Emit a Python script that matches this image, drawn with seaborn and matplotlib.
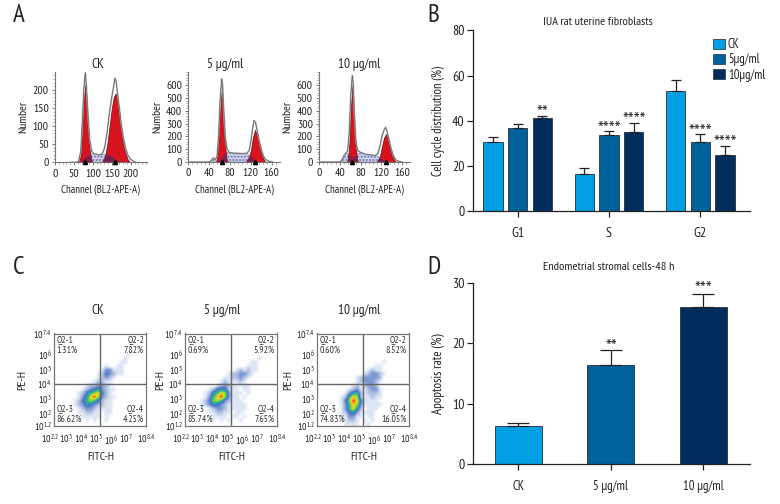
import numpy as np
import pandas as pd
import matplotlib
matplotlib.use("Agg")
import matplotlib.pyplot as plt
from matplotlib import font_manager as fm
from matplotlib.colors import LinearSegmentedColormap
from matplotlib.patches import Patch
from matplotlib.transforms import ScaledTranslation
import seaborn as sns

sns.set_theme(style="ticks")
_have = {f.name for f in fm.fontManager.ttflist}
NARROW = next((n for n in ["PT Sans Narrow", "Fira Sans Condensed", "Roboto Condensed", "Archivo Narrow", "DejaVu Sans"] if n in _have), "DejaVu Sans")
plt.rcParams["font.family"] = [NARROW, "DejaVu Sans"]
plt.rcParams["mathtext.fontset"] = "custom"
plt.rcParams["mathtext.rm"] = NARROW
plt.rcParams["mathtext.default"] = "rm"
plt.rcParams["text.color"] = "#222222"
plt.rcParams["axes.labelcolor"] = "#222222"
plt.rcParams["xtick.labelcolor"] = "#222222"
plt.rcParams["ytick.labelcolor"] = "#222222"

# ---- panel A: DNA histograms
hist_titles = ["CK", "5 µg/ml", "10 µg/ml"]
ck_outline_x = [40, 55, 62, 68, 72, 76, 80, 83, 87, 92, 97, 102, 110, 118, 125, 131, 137, 143, 149, 154, 158, 161, 165, 170, 175, 180, 186, 192, 200, 208, 215]
ck_outline_y = [0, 0, 2, 30, 110, 200, 247, 210, 130, 60, 30, 24, 22, 20, 24, 40, 80, 130, 175, 205, 232, 225, 190, 150, 105, 70, 40, 20, 8, 2, 0]
ck_g1_x = [62, 67, 72, 76, 80, 84, 88, 92, 96, 100]
ck_g1_y = [0, 15, 100, 175, 214, 170, 90, 30, 6, 0]
ck_g2_x = [125, 132, 138, 144, 150, 155, 160, 165, 170, 175, 180, 186, 192, 198]
ck_g2_y = [0, 15, 50, 100, 150, 180, 190, 170, 125, 85, 50, 25, 8, 0]
ck_s_x = [65, 75, 85, 95, 105, 120, 135, 150, 160, 172]
ck_s_y = [0, 10, 20, 24, 22, 20, 22, 18, 8, 0]

m5_outline_x = [0, 40, 44, 48, 52, 55, 58, 61, 64, 66, 68, 71, 74, 78, 85, 95, 105, 112, 117, 120, 123, 126, 129, 132, 136, 140, 144, 148, 155, 162]
m5_outline_y = [0, 0, 10, 32, 20, 40, 200, 480, 650, 600, 400, 200, 110, 75, 70, 68, 66, 68, 90, 160, 250, 325, 310, 250, 170, 100, 50, 20, 5, 0]
m5_g1_x = [54, 57, 60, 64, 67, 70, 73, 76]
m5_g1_y = [0, 100, 350, 565, 430, 170, 30, 0]
m5_g2_x = [111, 116, 120, 124, 128, 132, 136, 140, 144, 148]
m5_g2_y = [0, 30, 90, 190, 252, 215, 140, 70, 25, 0]
m5_s_x = [42, 48, 52, 56, 62, 68, 75, 85, 100, 112, 120, 128, 135]
m5_s_y = [0, 30, 15, 0, 30, 60, 75, 70, 65, 65, 45, 15, 0]

m10_outline_x = [0, 40, 44, 48, 52, 55, 58, 61, 64, 66, 68, 71, 74, 80, 90, 100, 108, 113, 117, 121, 125, 128, 131, 135, 139, 143, 148, 155, 160]
m10_outline_y = [0, 0, 15, 50, 70, 85, 220, 520, 677, 600, 380, 170, 90, 75, 60, 55, 50, 65, 120, 200, 250, 271, 240, 170, 100, 50, 15, 3, 0]
m10_g1_x = [55, 58, 61, 64, 67, 70, 73, 75]
m10_g1_y = [0, 120, 400, 600, 420, 150, 30, 0]
m10_g2_x = [112, 117, 121, 125, 129, 133, 137, 141, 145, 148]
m10_g2_y = [0, 40, 120, 190, 219, 170, 100, 50, 15, 0]
m10_s_x = [42, 47, 52, 57, 62, 70, 78, 90, 100, 110, 118, 126, 134]
m10_s_y = [0, 40, 70, 60, 35, 55, 70, 60, 55, 50, 35, 15, 0]

# ---- panel B
phases = ["G1", "S", "G2"]
doses_b = ["CK", "5µg/ml", "10µg/ml"]
b_ck = [30.8, 16.6, 53.2]
b_5 = [36.7, 33.6, 30.6]
b_10 = [41.1, 35.1, 24.9]
b_ck_err = [2.2, 2.7, 4.7]
b_5_err = [1.9, 1.8, 3.4]
b_10_err = [0.9, 3.9, 4.1]
b_stars = [["", "", ""], ["", "****", "****"], ["**", "****", "****"]]
b_star_y = [[0, 0, 0], [0, 38.2, 36.8], [45.3, 42.1, 32.1]]

# ---- panel D
doses_d = ["CK", "5 µg/ml", "10 µg/ml"]
d_vals = [6.3, 16.4, 26.0]
d_err = [0.5, 2.5, 2.3]
d_stars = ["", "**", "***"]
d_star_y = [0, 20.1, 29.7]

# ---- panel C: density, digit 0-9, one string per row from the top
flow_titles = ["CK", "5 µg/ml", "10 µg/ml"]
flow_ck = ["", "", "", "", "",
    "000000000000000000010",
    "00000000000000000010",
    "000000000000000001100",
    "0000000000000100110",
    "000000000000133111",
    "000000000001243211",
    "0000000000012321",
    "00000000001221100",
    "000000001223321",
    "000000012345321100",
    "000000124678421",
    "000000135897321100",
    "000001246764211",
    "000001235432211",
    "000000123321111",
    "000000112211011",
    "00000001111101",
    "0000000010100100",
    ""]
flow_5 = ["", "", "", "", "", "",
    "0000000000000000000100",
    "000000000000000001100",
    "00000000000000001110",
    "0000000000000121211",
    "000000000001223321",
    "00000000001122321",
    "0000000001211121",
    "000000001232111110",
    "00000012454211011",
    "00000125687311101",
    "00000136897311010",
    "00001247763211100",
    "00001235432111110",
    "000000123321111100",
    "00000011221101100",
    "00000001111011010",
    "0000000101010010",
    ""]
flow_10 = ["", "", "", "", "", "", "",
    "0000000000000000010",
    "000000000000000110",
    "00000000000001211",
    "000000000000123321",
    "00000000001233332",
    "00000000001233321",
    "0000000001212332",
    "000000001231123310",
    "000000013562122210",
    "000000126872112110",
    "000000147984111100",
    "000000136873111110",
    "000000136852011100",
    "000000124531111",
    "000000113311011",
    "0000000122101010",
    "000000011110010"]
flow_q1 = ["Q2-1\n1.31%", "Q2-1\n0.69%", "Q2-1\n0.60%"]
flow_q2 = ["Q2-2\n7.82%", "Q2-2\n5.92%", "Q2-2\n8.52%"]
flow_q3 = ["Q2-3\n86.62%", "Q2-3\n85.74%", "Q2-3\n74.83%"]
flow_q4 = ["Q2-4\n4.25%", "Q2-4\n7.65%", "Q2-4\n16.05%"]

C_CK, C_5, C_10 = "#009fe3", "#00629b", "#002d5b"
W, H = 780, 504
fig = plt.figure(figsize=(W / 100, H / 100), dpi=100, facecolor="white")


def px_axes(left, top, right, bottom):
    return fig.add_axes([left / W, 1 - bottom / H, (right - left) / W, (bottom - top) / H])


for letter, x, y in [("A", 13, 16), ("B", 427, 16), ("C", 13, 267), ("D", 427, 267)]:
    fig.text(x / W, 1 - y / H, letter, fontsize=18, ha="left", va="center")


def hist_panel(box, xlim, ylim, xt, yt, title, title_x, outline, g1, g2, s, marks):
    ax = px_axes(*box)
    ax.set_xlim(*xlim)
    ax.set_ylim(*ylim)
    sx, sy = s
    ax.fill_between(sx, 0, sy, facecolor="#cfd3ec", edgecolor="#6f78a8", hatch=".....", lw=0.3, zorder=1)
    for (gx, gy) in (g1, g2):
        red = ax.fill_between(gx, 0, gy, facecolor="#d7141e", edgecolor="#6b0c14", lw=0.5, zorder=2)
        over = ax.fill_between(sx, 0, sy, facecolor="#7d1f4a", lw=0, zorder=3)
        over.set_clip_path(red.get_paths()[0], ax.transData)
    ox, oy = outline
    frame = pd.DataFrame({"x": ox, "y": oy})
    sns.lineplot(data=frame, x="x", y="y", ax=ax, color="#a8a8a8", lw=1.2, zorder=4, errorbar=None)
    sns.lineplot(data=frame, x="x", y="y", ax=ax, color="#444444", lw=0.3, zorder=5, errorbar=None)
    ax.plot(marks, [0, 0], ls="", marker="^", ms=3, color="black", clip_on=False, zorder=6)
    for side in ("top", "right"):
        ax.spines[side].set_visible(False)
    for side in ("left", "bottom"):
        ax.spines[side].set_color("#777777")
        ax.spines[side].set_linewidth(0.8)
    ax.set_xticks(xt)
    ax.set_yticks(yt)
    ax.set_xticks(np.arange(xlim[0], xlim[1], (xt[1] - xt[0]) / 5), minor=True)
    ax.set_yticks(np.arange(ylim[0], ylim[1], (yt[1] - yt[0]) / 5), minor=True)
    ax.tick_params(which="major", length=2.5, width=0.6, color="#666666", labelsize=8.5, pad=2)
    ax.tick_params(which="minor", length=1.3, width=0.5, color="#888888")
    ax.set_xlabel("Channel (BL2-APE-A)", fontsize=7.8, labelpad=4)
    ax.set_ylabel("Number", fontsize=8.5, labelpad=3)
    ax.set_title(title, fontsize=9.5, pad=3, x=title_x)
    return ax


hist_panel((55, 71.7, 146.7, 162.3), (0, 242), (0, 250), [0, 50, 100, 150, 200], [0, 50, 100, 150, 200],
           hist_titles[0], 0.47, (ck_outline_x, ck_outline_y), (ck_g1_x, ck_g1_y), (ck_g2_x, ck_g2_y), (ck_s_x, ck_s_y), [80, 159])
hist_panel((188.3, 71.7, 280, 162), (0, 176), (0, 706), [0, 40, 80, 120, 160], [0, 100, 200, 300, 400, 500, 600],
           hist_titles[1], 0.40, (m5_outline_x, m5_outline_y), (m5_g1_x, m5_g1_y), (m5_g2_x, m5_g2_y), (m5_s_x, m5_s_y), [64, 128])
hist_panel((319, 71.7, 410, 162), (0, 175), (0, 706), [0, 40, 80, 120, 160], [0, 100, 200, 300, 400, 500, 600],
           hist_titles[2], 0.44, (m10_outline_x, m10_outline_y), (m10_g1_x, m10_g1_y), (m10_g2_x, m10_g2_y), (m10_s_x, m10_s_y), [64, 128])

flow_cmap = LinearSegmentedColormap.from_list(
    "flow", ["#ffffff", "#dce5f4", "#aebfe2", "#7b97d2", "#4a73bd", "#2e9fc0", "#35b878", "#a3d63c", "#f2d21e", "#e8402a"])


def decode(rows):
    return np.array([[int(c) for c in r.ljust(24, "0")] for r in rows], dtype=float)


xt_exp = [2.2, 3, 4, 5, 6, 7, 8.4]
yt_exp = [1.2, 2, 3, 4, 5, 6, 7.4]


def exp_label(e):
    return "$\\mathregular{10^{%s}}$" % (("%g" % e))


flow_title_x = [0.475, 0.40, 0.453]
flow_ylabel_px = [27, 165, 293]
for i, (left, rows) in enumerate(zip([54.3, 185.3, 317.3], [flow_ck, flow_5, flow_10])):
    ax = px_axes(left, 333.5, left + 92, 425.8)
    ax.imshow(decode(rows), extent=(2.2, 8.4, 1.2, 7.4), origin="upper", aspect="auto",
              cmap=flow_cmap, vmin=0, vmax=9, interpolation="bilinear")
    ax.axvline(5.3, color="#666666", lw=1)
    ax.axhline(4.0, color="#666666", lw=1)
    for spine in ax.spines.values():
        spine.set_color("#777777")
        spine.set_linewidth(0.9)
    ax.set_xticks(xt_exp, [exp_label(e) for e in xt_exp])
    ax.set_yticks(yt_exp, [exp_label(e) for e in yt_exp])
    ax.tick_params(length=0, labelsize=7.2, pad=2)
    ax.tick_params(axis="x", pad=5)
    first = ax.get_xticklabels()[0]
    first.set_transform(first.get_transform() + ScaledTranslation(-3 / 72, 0, fig.dpi_scale_trans))
    ax.set_xlabel("FITC-H", fontsize=8.5, labelpad=3)
    ax.set_ylabel("PE-H", fontsize=8.5)
    ax.yaxis.set_label_coords((flow_ylabel_px[i] - left) / 92, 0.5)
    ax.set_title(flow_titles[i], fontsize=9.5, pad=14, x=flow_title_x[i])
    kw = dict(transform=ax.transAxes, fontsize=7, linespacing=1.1, color="#333333")
    ax.text(0.025, 0.97, flow_q1[i], ha="left", va="top", **kw)
    ax.text(0.975, 0.97, flow_q2[i], ha="right", va="top", multialignment="right", **kw)
    ax.text(0.025, 0.025, flow_q3[i], ha="left", va="bottom", **kw)
    ax.text(0.975, 0.025, flow_q4[i], ha="right", va="bottom", multialignment="right", **kw)


def style_bar_axes(ax):
    sns.despine(ax=ax)
    for side in ("left", "bottom"):
        ax.spines[side].set_color("#222222")
        ax.spines[side].set_linewidth(0.9)
    ax.tick_params(axis="both", length=4.5, width=0.9, color="#222222", pad=2)
    ax.tick_params(axis="y", labelsize=10)
    ax.tick_params(axis="x", pad=7, labelsize=9.2)
    ax.set_xlabel("")


def star(ax, x, y, s):
    ax.annotate(s, (x, y), xytext=(0, -3.5), textcoords="offset points", ha="center", va="center",
                fontsize=14.5, color="#333333", annotation_clip=False)


# Panel B
ax_b = px_axes(473.3, 30.3, 750, 211.3)
df_b = pd.DataFrame({
    "phase": phases * 3,
    "dose": np.repeat(doses_b, 3),
    "value": b_ck + b_5 + b_10,
    "err": b_ck_err + b_5_err + b_10_err,
})
sns.barplot(data=df_b, x="phase", y="value", hue="dose", order=phases, hue_order=doses_b,
            palette=[C_CK, C_5, C_10], width=0.81, gap=0.21, errorbar=None, legend=False, saturation=1,
            edgecolor="#33404f", linewidth=0.7, ax=ax_b)
ax_b.set_xlim(-0.486, 2.544)
ax_b.set_ylim(0, 80)
ax_b.set_yticks([0, 20, 40, 60, 80])
ax_b.set_ylabel("Cell cycle distribution (%)", fontsize=9, labelpad=5)
style_bar_axes(ax_b)
ax_b.tick_params(axis="x", labelsize=10)
fig.text(598 / W, 1 - 22 / H, "IUA rat uterine fibroblasts", fontsize=8.8, ha="center", va="center")
errs_b = [b_ck_err, b_5_err, b_10_err]
for j, cont in enumerate(list(ax_b.containers)):
    for k, bar in enumerate(list(cont)):
        cx = bar.get_x() + bar.get_width() / 2
        ax_b.errorbar(cx, bar.get_height(), yerr=[[0], [errs_b[j][k]]], color="#222222",
                      capsize=3.6, lw=0.9, capthick=0.9, zorder=1)
        if b_stars[j][k]:
            star(ax_b, cx, b_star_y[j][k], b_stars[j][k])
ax_b.legend(handles=[Patch(facecolor=c, edgecolor="#33404f", lw=0.6, label=l)
                     for c, l in zip([C_CK, C_5, C_10], doses_b)],
            loc="upper left", bbox_to_anchor=(0.868, 0.957), frameon=False, fontsize=9,
            handlelength=0.9, handleheight=0.9, handletextpad=0.25, labelspacing=0.18, borderpad=0, borderaxespad=0)

# Panel D
ax_d = px_axes(473.3, 283.3, 750, 463.7)
df_d = pd.DataFrame({"dose": doses_d, "value": d_vals})
sns.barplot(data=df_d, x="dose", y="value", hue="dose", order=doses_d, hue_order=doses_d,
            palette=[C_CK, C_5, C_10], width=0.51, errorbar=None, legend=False, saturation=1,
            edgecolor="#33404f", linewidth=0.7, dodge=False, ax=ax_d)
ax_d.set_xlim(-0.486, 2.505)
ax_d.set_ylim(0, 30)
ax_d.set_yticks([0, 10, 20, 30])
ax_d.set_ylabel("Apoptosis rate (%)", fontsize=9.3, labelpad=5)
style_bar_axes(ax_d)
fig.text(609 / W, 1 - 267 / H, "Endometrial stromal cells-48 h", fontsize=8.8, ha="center", va="center")
for i, (v, e) in enumerate(zip(d_vals, d_err)):
    ax_d.errorbar(i, v, yerr=[[0], [e]], color="#222222", capsize=8, lw=0.9, capthick=0.9, zorder=1)
    if d_stars[i]:
        star(ax_d, i, d_star_y[i], d_stars[i])

fig.savefig("out.png", dpi=100, facecolor="white")
